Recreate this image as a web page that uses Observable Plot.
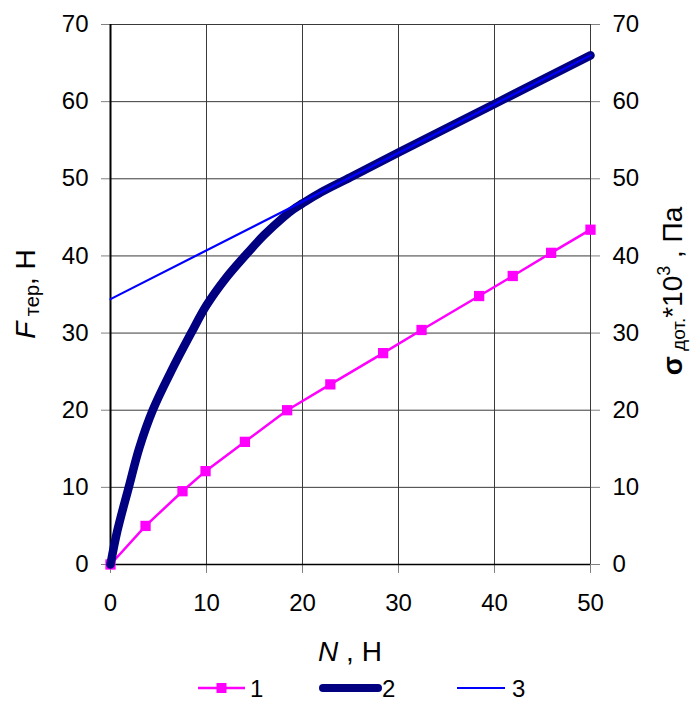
<!DOCTYPE html>
<html>
<head>
<meta charset="utf-8">
<script src="https://cdn.jsdelivr.net/npm/d3@7"></script>
<script src="https://cdn.jsdelivr.net/npm/@observablehq/plot@0.6"></script>
<style>
  body { margin: 0; background: #fff; font-family: "Liberation Sans", Arial, sans-serif; }
  #chart { width: 692px; height: 723px; position: relative; }
  #legend { display: block; }
</style>
</head>
<body>
<div id="chart"></div>
<script>
// Series 1 (magenta, square markers)
const n1 = [0, 3.65, 7.5, 9.9, 14, 18.4, 22.9, 28.4, 32.4, 38.4, 41.9, 45.9, 50];
const f1 = [0, 5.0, 9.5, 12.1, 15.9, 20.0, 23.35, 27.4, 30.4, 34.8, 37.4, 40.4, 43.4];
// Series 2 (thick navy curve)
const n2 = [0, 0.7, 1.9, 3, 4.4, 6.3, 8.4, 10, 12, 14, 16, 18, 19, 20, 22, 25, 30, 40, 50];
const f2 = [0, 4.3, 10, 15.1, 20, 25, 30, 33.6, 37.1, 40, 42.7, 45.0, 46.0, 46.8, 48.3, 50.2, 53.4, 59.7, 66];
// Series 3 (thin blue straight line)
const n3 = [0, 50];
const f3 = [34.4, 66];

const xTicks = [0, 10, 20, 30, 40, 50];
const yTicks = [0, 10, 20, 30, 40, 50, 60, 70];
const legendLabels = ["1", "2", "3"];

const s1 = n1.map((x, i) => ({x, y: f1[i]}));
const s2 = n2.map((x, i) => ({x, y: f2[i]}));
const s3 = n3.map((x, i) => ({x, y: f3[i]}));

const W = 692, H = 672;
const plot = Plot.plot({
  width: W,
  height: H,
  marginLeft: 110,
  marginRight: 102,
  marginTop: 24,
  marginBottom: 108,
  style: {fontFamily: "'Liberation Sans', Arial, sans-serif", fontSize: "24px", color: "#000", background: "#fff"},
  x: {domain: [0, 50]},
  y: {domain: [0, 70]},
  marks: [
    Plot.gridX(xTicks, {stroke: "#3a3a3a", strokeOpacity: 1, strokeWidth: 1}),
    Plot.gridY(yTicks, {stroke: "#3a3a3a", strokeOpacity: 1, strokeWidth: 1}),
    Plot.axisY(yTicks, {anchor: "left", tickSize: 9, tickPadding: 13, stroke: "#808080", fill: "#000", fontSize: 24, label: null, tickFormat: d => String(d)}),
    Plot.axisY(yTicks, {anchor: "right", tickSize: 9, tickPadding: 13, stroke: "#808080", fill: "#000", fontSize: 24, label: null, tickFormat: d => String(d)}),
    Plot.axisX(xTicks, {anchor: "bottom", tickSize: 9, tickPadding: 20, stroke: "#808080", fill: "#000", fontSize: 24, label: null, tickFormat: d => String(d)}),
    Plot.ruleX([0], {stroke: "#000", strokeWidth: 2}),
    Plot.ruleY([0], {stroke: "#000", strokeWidth: 1.5}),
    Plot.line(s1, {x: "x", y: "y", stroke: "#ff00ff", strokeWidth: 2.5}),
    Plot.dot(s1, {x: "x", y: "y", symbol: "square", r: 5.8, fill: "#ff00ff", stroke: "none"}),
    Plot.line(s2, {x: "x", y: "y", stroke: "#000080", strokeWidth: 8.5, curve: "catmull-rom", strokeLinecap: "round", strokeLinejoin: "round"}),
    Plot.line(s3, {x: "x", y: "y", stroke: "#0000ff", strokeWidth: 2.2})
  ]
});

// Axis titles with rich text
const svg = d3.select(plot);
const font = "'Liberation Sans', Arial, sans-serif";
const xs = plot.scale("x"), ys = plot.scale("y");
const cx = (xs.range[0] + xs.range[1]) / 2;
const cy = (ys.range[0] + ys.range[1]) / 2;

// bottom: N , Н
const tb = svg.append("text")
  .attr("x", cx).attr("y", 661)
  .attr("text-anchor", "middle")
  .attr("font-family", font).attr("font-size", 28).attr("fill", "#000");
tb.append("tspan").attr("font-style", "italic").text("N");
tb.append("tspan").text(" , Н");

// left: F тер, Н
const tl = svg.append("text")
  .attr("transform", `translate(35,${cy}) rotate(-90)`)
  .attr("text-anchor", "middle")
  .attr("font-family", font).attr("font-size", 28).attr("fill", "#000");
tl.append("tspan").attr("font-style", "italic").text("F");
tl.append("tspan").attr("font-size", 20).attr("dy", 4).text(" тер");
tl.append("tspan").attr("dy", -4).text(", Н");

// right: σ дот.*10³ , Па
const tr = svg.append("text")
  .attr("transform", `translate(682,${cy - 3}) rotate(-90)`)
  .attr("text-anchor", "middle")
  .attr("font-family", font).attr("font-size", 28).attr("fill", "#000");
tr.append("tspan").attr("font-weight", "bold").text("σ");
tr.append("tspan").attr("font-size", 19).attr("dy", 3).text(" дот.");
tr.append("tspan").attr("dy", -3).text("*10");
tr.append("tspan").attr("font-size", 18).attr("dy", -12).text("3");
tr.append("tspan").attr("dy", 12).text(" , Па");

document.getElementById("chart").appendChild(plot);

// Legend below the SVG
const lg = d3.create("svg").attr("id", "legend").attr("width", W).attr("height", 51);
const ly = 16;
const items = [
  {x0: 198, x1: 245, color: "#ff00ff", w: 2.5, marker: true, cap: "butt", tx: 250},
  {x0: 323, x1: 378, color: "#000080", w: 8, marker: false, cap: "round", tx: 382},
  {x0: 457, x1: 505, color: "#0000ff", w: 2.2, marker: false, cap: "butt", tx: 512}
];
items.forEach((it, i) => {
  lg.append("line").attr("x1", it.x0).attr("x2", it.x1).attr("y1", ly).attr("y2", ly)
    .attr("stroke", it.color).attr("stroke-width", it.w).attr("stroke-linecap", it.cap);
  if (it.marker) {
    const c = (it.x0 + it.x1) / 2;
    lg.append("rect").attr("x", c - 5).attr("y", ly - 5).attr("width", 10).attr("height", 10).attr("fill", it.color);
  }
  lg.append("text").attr("x", it.tx).attr("y", ly).attr("dy", "0.36em")
    .attr("font-family", font).attr("font-size", 24).attr("fill", "#000").text(legendLabels[i]);
});
document.getElementById("chart").appendChild(lg.node());
</script>
</body>
</html>
